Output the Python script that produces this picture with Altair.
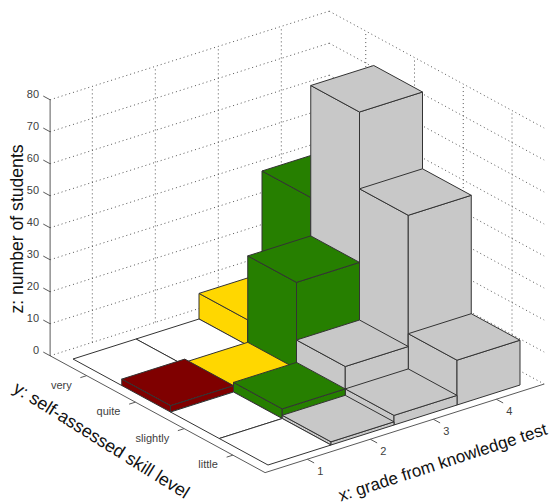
import altair as alt

grades = [1, 2, 3, 4]
skills = ["very", "quite", "slightly", "little"]
z_ticks = [0, 10, 20, 30, 40, 50, 60, 70, 80]
counts = [
    [0, 0, 8, 40],
    [2, 1, 28, 75],
    [0, 3, 10, 51],
    [0, 1, 3, 14],
]
colours = [
    ["#ffffff", "#ffffff", "#ffd700", "#267f00"],
    ["#7f0000", "#ffd700", "#267f00", "#c8c8c8"],
    ["#ffffff", "#267f00", "#c8c8c8", "#c8c8c8"],
    ["#ffffff", "#c8c8c8", "#c8c8c8", "#c8c8c8"],
]
XMIN, XMAX, YMIN, YMAX, ZMAX = 0.33, 4.76, 0.25, 4.66, 80


def P(x, y, z=0):
    """Fixed oblique view of the 3-D axes, returned as page pixels."""
    return [
        73 + (x - 0.5) * 63 + (y - 0.5) * 48.75 - 8,
        359 - (x - 0.5) * 20 + (y - 0.5) * 26.5 - 3.2 * z - 8,
    ]


def polygon(points, fill):
    return {"type": "Feature", "properties": {"fill": fill},
            "geometry": {"type": "Polygon", "coordinates": [points + [points[0]]]}}


def line(a, b):
    return {"type": "Feature", "properties": {},
            "geometry": {"type": "LineString", "coordinates": [a, b]}}


PROJ = dict(type="identity", scale=1, translate=[0, 0])

# dotted grid on the two back walls
grid = []
for z in z_ticks:
    grid.append(line(P(XMIN, YMIN, z), P(XMAX, YMIN, z)))
    grid.append(line(P(XMAX, YMIN, z), P(XMAX, YMAX, z)))
for g in grades:
    grid.append(line(P(g, YMIN, 0), P(g, YMIN, ZMAX)))
for j in range(4):
    grid.append(line(P(XMAX, j + 1, 0), P(XMAX, j + 1, ZMAX)))

# axis lines and ticks
axis = [
    line(P(XMIN, YMIN, 0), P(XMIN, YMIN, ZMAX)),
    line(P(XMIN, YMIN, 0), P(XMIN, YMAX, 0)),
    line(P(XMIN, YMAX, 0), P(XMAX, YMAX, 0)),
]
for z in z_ticks:
    axis.append(line(P(XMIN, YMIN, z), P(XMIN, YMIN - 0.14, z)))
for g in grades:
    axis.append(line(P(g, YMAX, 0), P(g, YMAX + 0.14, 0)))
for j in range(4):
    axis.append(line(P(XMIN, j + 1, 0), P(XMIN - 0.1, j + 1, 0)))

# bars: back to front, so the nearer ones paint over the farther ones
faces = []
for i in range(3, -1, -1):
    for j in range(4):
        h = counts[j][i]
        c = colours[j][i]
        x0, x1 = i + 0.5, i + 1.5
        y0, y1 = j + 0.5, j + 1.5
        if h > 0:
            faces.append(polygon([P(x0, y0, 0), P(x0, y1, 0), P(x0, y1, h), P(x0, y0, h)], c))
            faces.append(polygon([P(x0, y1, 0), P(x1, y1, 0), P(x1, y1, h), P(x0, y1, h)], c))
        faces.append(polygon([P(x0, y0, h), P(x1, y0, h), P(x1, y1, h), P(x0, y1, h)], c))

grid_layer = alt.Chart(alt.Data(values=grid)).mark_geoshape(
    filled=False, stroke="#555555", strokeWidth=1, strokeDash=[1, 3]
).project(**PROJ)
axis_layer = alt.Chart(alt.Data(values=axis)).mark_geoshape(
    filled=False, stroke="#5a5a5a", strokeWidth=1
).project(**PROJ)
bar_layer = alt.Chart(alt.Data(values=faces)).mark_geoshape(
    stroke="#333333", strokeWidth=1, strokeJoin="round"
).encode(fill=alt.Fill("properties.fill:N", scale=None, legend=None)).project(**PROJ)

labels = []
for z in z_ticks:
    px, py = P(XMIN, YMIN, z)
    labels.append({"t": str(z), "x": px - 11, "y": py - 4.5, "a": "right"})
for g in grades:
    px, py = P(g, YMAX, 0)
    labels.append({"t": str(g), "x": px + 13, "y": py + 13, "a": "center"})
for j, s in enumerate(skills):
    px, py = P(XMIN, j + 1, 0)
    labels.append({"t": s, "x": px - 15, "y": py + 10, "a": "right"})


def text_layer(rows, align, size, colour, angle=0):
    return alt.Chart(alt.Data(values=rows)).mark_text(
        font="Liberation Sans", fontSize=size, color=colour, align=align,
        baseline="middle", angle=angle
    ).encode(
        x=alt.X("x:Q", scale=None, axis=None),
        y=alt.Y("y:Q", scale=None, axis=None),
        text="t:N",
    )


tick_layers = [
    text_layer([r for r in labels if r["a"] == a], a, 11, "#404040")
    for a in ("right", "center")
]
title_layers = [
    text_layer([{"t": "z: number of students", "x": 18 - 8, "y": 229 - 8}], "center", 17.6, "#111111", 270),
    text_layer([{"t": "y: self-assessed skill level", "x": 101 - 8, "y": 441 - 8}], "center", 17.8, "#111111", 32),
    text_layer([{"t": "x: grade from knowledge test", "x": 443 - 8, "y": 463 - 8}], "center", 17, "#111111", 342),
]

chart = alt.layer(
    grid_layer, axis_layer, bar_layer, *tick_layers, *title_layers
).properties(
    width=544, height=496, padding=0,
    autosize=alt.AutoSizeParams(type="none"),
).configure_view(stroke=None)

chart.save("out.html", embed_options={"renderer": "svg", "actions": False})
